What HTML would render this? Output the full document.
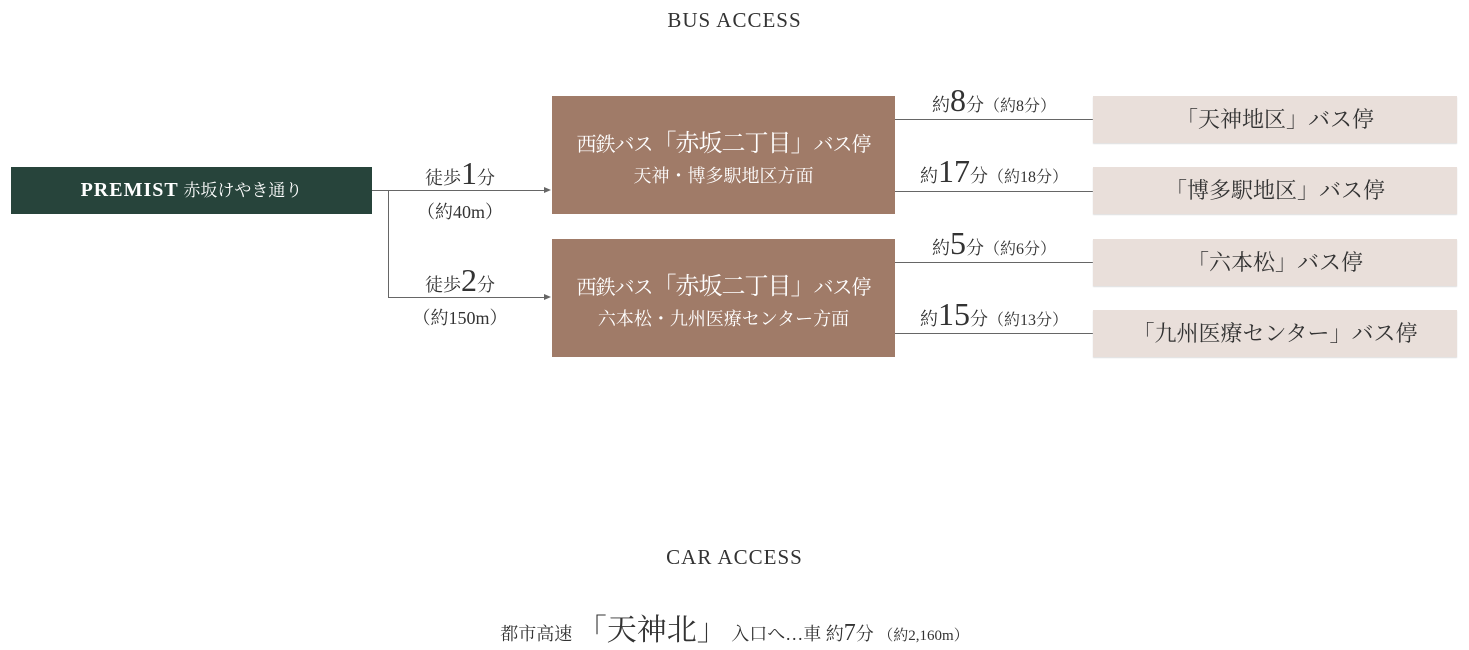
<!DOCTYPE html>
<html><head><meta charset="utf-8"><style>
body{margin:0;width:1469px;height:650px;background:#fff;position:relative;overflow:hidden;font-family:"Liberation Serif","Noto Serif CJK SC",serif;color:#333}
.a{position:absolute}
.t{position:absolute;white-space:nowrap;text-align:center}
.ln{position:absolute;background:#666;height:1px}
.br{position:absolute;background:#a07b68;color:#fff;left:552px;width:343px;height:118px}
.rb{position:absolute;background:#e9dfda;left:1093px;width:364px;height:47px;box-shadow:0 1px 1px #ddd;font-size:22px;line-height:47px;text-align:center;color:#333}
.big{font-size:32px}
.lab{font-size:18px}
</style></head><body>
<div class="t" style="left:0;width:1469px;top:8px;font-size:21px;letter-spacing:1px;color:#333">BUS ACCESS</div>

<div class="a" style="left:11px;top:167px;width:361px;height:47px;background:#27443b;color:#fff;font-size:19px;line-height:47px;text-align:center;font-weight:bold"><span style="font-size:20px;letter-spacing:1px">PREMIST</span> <span style="font-weight:normal;font-size:17px">赤坂けやき通り</span></div>

<div class="ln" style="left:372px;top:190px;width:176px"></div>
<div class="a" style="left:388px;top:190px;width:1px;height:108px;background:#666"></div>
<div class="ln" style="left:388px;top:297px;width:160px"></div>
<div class="a" style="left:544px;top:187px;border-left:7px solid #666;border-top:3px solid transparent;border-bottom:3px solid transparent"></div>
<div class="a" style="left:544px;top:294px;border-left:7px solid #666;border-top:3px solid transparent;border-bottom:3px solid transparent"></div>

<div class="t lab" style="left:380px;width:160px;top:155px">徒歩<span class="big">1</span>分</div>
<div class="t lab" style="left:380px;width:160px;top:198px">（約40m）</div>
<div class="t lab" style="left:380px;width:160px;top:262px">徒歩<span class="big">2</span>分</div>
<div class="t lab" style="left:380px;width:160px;top:304px">（約150m）</div>

<div class="br" style="top:96px"><div class="t" style="left:0;width:343px;top:27px;font-size:20px;letter-spacing:-1px">西鉄バス<span style="font-size:24px">「赤坂二丁目」</span>バス停</div><div class="t" style="left:0;width:343px;top:66px;font-size:18px">天神・博多駅地区方面</div></div>
<div class="br" style="top:239px"><div class="t" style="left:0;width:343px;top:27px;font-size:20px;letter-spacing:-1px">西鉄バス<span style="font-size:24px">「赤坂二丁目」</span>バス停</div><div class="t" style="left:0;width:343px;top:66px;font-size:18px">六本松・九州医療センター方面</div></div>

<div class="ln" style="left:895px;top:119px;width:198px"></div>
<div class="ln" style="left:895px;top:191px;width:198px"></div>
<div class="ln" style="left:895px;top:262px;width:198px"></div>
<div class="ln" style="left:895px;top:333px;width:198px"></div>

<div class="t lab" style="left:895px;width:198px;top:82px">約<span class="big">8</span>分<span style="font-size:16px">（約8分）</span></div>
<div class="t lab" style="left:895px;width:198px;top:153px">約<span class="big">17</span>分<span style="font-size:16px">（約18分）</span></div>
<div class="t lab" style="left:895px;width:198px;top:225px">約<span class="big">5</span>分<span style="font-size:16px">（約6分）</span></div>
<div class="t lab" style="left:895px;width:198px;top:296px">約<span class="big">15</span>分<span style="font-size:16px">（約13分）</span></div>

<div class="rb" style="top:96px">「天神地区」バス停</div>
<div class="rb" style="top:167px">「博多駅地区」バス停</div>
<div class="rb" style="top:239px">「六本松」バス停</div>
<div class="rb" style="top:310px">「九州医療センター」バス停</div>

<div class="t" style="left:0;width:1469px;top:545px;font-size:21px;letter-spacing:1px">CAR ACCESS</div>
<div class="t" style="left:0;width:1469px;top:605px;font-size:18px">都市高速 <span style="font-size:30px">「天神北」</span> 入口へ…車 約<span style="font-size:24px">7</span>分 <span style="font-size:15px">（約2,160m）</span></div>
</body></html>
